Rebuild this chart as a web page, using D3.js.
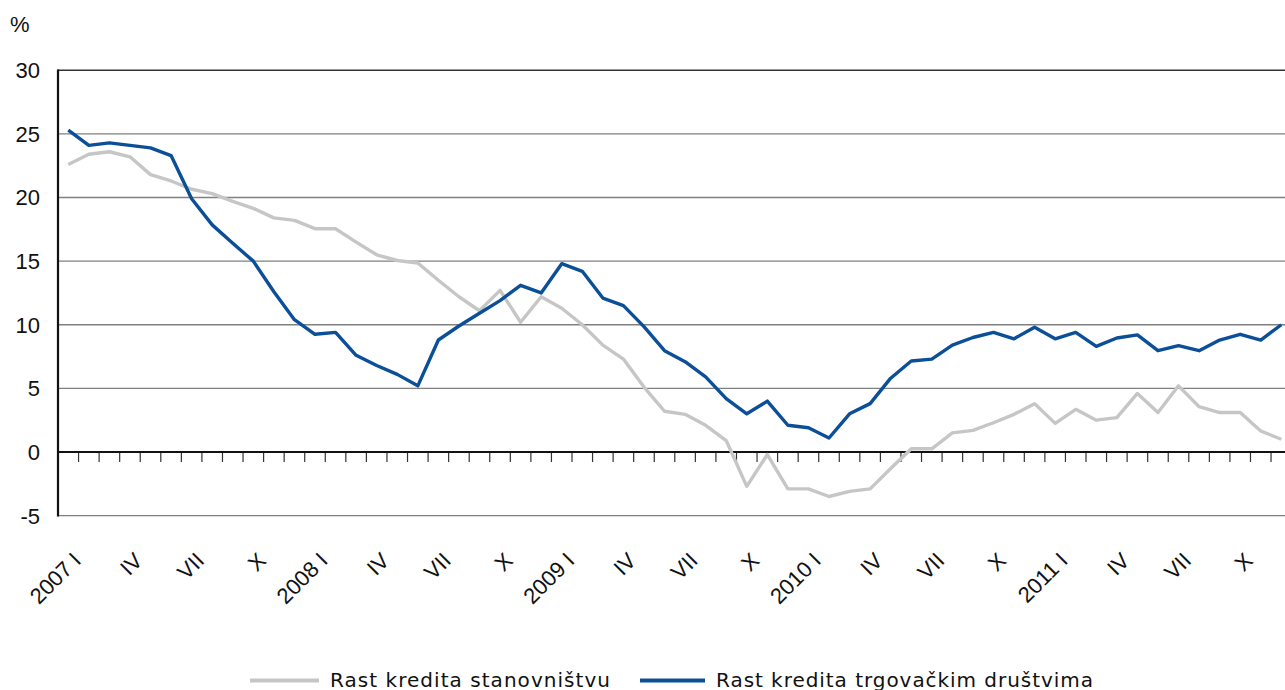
<!DOCTYPE html>
<html>
<head>
<meta charset="utf-8">
<script src="https://cdn.jsdelivr.net/npm/d3@7"></script>
<style>
  html, body { margin: 0; padding: 0; background: #fff; }
  svg { display: block; }
</style>
</head>
<body>
<svg id="chart" width="1285" height="690"></svg>
<script>
// ---- data ----
const months = [
  "2007 I","","","IV","","","VII","","","X","","",
  "2008 I","","","IV","","","VII","","","X","","",
  "2009 I","","","IV","","","VII","","","X","","",
  "2010 I","","","IV","","","VII","","","X","","",
  "2011 I","","","IV","","","VII","","","X","",""
];
const households = [
  22.6, 23.4, 23.6, 23.2, 21.8, 21.3, 20.65, 20.3, 19.7, 19.15,
  18.4, 18.2, 17.55, 17.55, 16.5, 15.5, 15.05, 14.85, 13.5, 12.2,
  11.1, 12.7, 10.2, 12.2, 11.3, 10.0, 8.4, 7.3, 5.1, 3.2,
  2.96, 2.1, 0.9, -2.7, -0.2, -2.9, -2.9, -3.5, -3.1, -2.9,
  -1.3, 0.25, 0.25, 1.5, 1.7, 2.3, 2.96, 3.8, 2.25, 3.35,
  2.5, 2.7, 4.6, 3.1, 5.2, 3.56, 3.1, 3.1, 1.65, 1.0
];
const companies = [
  25.3, 24.1, 24.3, 24.1, 23.9, 23.3, 19.9, 17.85, 16.4, 15.0,
  12.6, 10.4, 9.25, 9.4, 7.6, 6.8, 6.1, 5.2, 8.8, 9.9,
  10.9, 11.9, 13.1, 12.5, 14.8, 14.2, 12.1, 11.5, 9.85, 7.96,
  7.1, 5.9, 4.2, 3.0, 4.0, 2.1, 1.9, 1.1, 3.0, 3.8,
  5.8, 7.15, 7.3, 8.4, 9.0, 9.4, 8.9, 9.8, 8.9, 9.4,
  8.3, 8.96, 9.2, 7.96, 8.36, 7.96, 8.8, 9.25, 8.8, 10.0
];
const yTicks = [30, 25, 20, 15, 10, 5, 0, -5];
const seriesNames = ["Rast kredita stanovništvu", "Rast kredita trgovačkim društvima"];
const seriesColors = ["#c6c6c6", "#0b4f98"];

// ---- layout ----
const svg = d3.select("#chart");
const W = 1285;
const left = 58, bandW = 20.56;
const idx = d3.range(months.length);
const x = d3.scaleBand().domain(idx).range([left, left + bandW * months.length]).paddingInner(0).paddingOuter(0);
const xc = i => x(i) + x.bandwidth() / 2;
const y = d3.scaleLinear().domain([-5, 30]).range([515.6, 70.3]);

const axisFont = "'Liberation Sans', Arial, sans-serif";

// gridlines
svg.append("g").selectAll("line").data(yTicks.filter(d => d !== 0)).join("line")
  .attr("x1", left).attr("x2", W)
  .attr("y1", d => y(d)).attr("y2", d => y(d))
  .attr("stroke", d => d === 30 ? "#333" : "#808080")
  .attr("stroke-width", 1.4);

// y axis labels
svg.append("g").selectAll("text").data(yTicks).join("text")
  .attr("x", 40).attr("y", d => y(d)).attr("dy", "0.36em")
  .attr("text-anchor", "end")
  .attr("font-family", axisFont).attr("font-size", 22).attr("fill", "#111")
  .text(d => d);

svg.append("text").attr("x", 10).attr("y", 32)
  .attr("font-family", axisFont).attr("font-size", 22).attr("fill", "#111")
  .text("%");

// x tick marks at band boundaries
svg.append("g").selectAll("line").data(idx.slice(1)).join("line")
  .attr("x1", d => x(d)).attr("x2", d => x(d))
  .attr("y1", y(0)).attr("y2", y(0) + 10)
  .attr("stroke", "#333").attr("stroke-width", 1.2);

// zero line and y axis
svg.append("line").attr("x1", left).attr("x2", W).attr("y1", y(0)).attr("y2", y(0))
  .attr("stroke", "#111").attr("stroke-width", 2.2);
svg.append("line").attr("x1", left).attr("x2", left).attr("y1", y(30) - 0.7).attr("y2", y(-5) + 1)
  .attr("stroke", "#111").attr("stroke-width", 2.2);

// x labels
svg.append("g").selectAll("text").data(idx.filter(i => months[i] !== "")).join("text")
  .attr("transform", i => `translate(${xc(i) + 14},562) rotate(-45)`)
  .attr("text-anchor", "end")
  .attr("font-family", axisFont).attr("font-size", 22).attr("fill", "#111")
  .text(i => months[i]);

// lines
const line = d3.line().x((d, i) => xc(i)).y(d => y(d));
[households, companies].forEach((s, k) => {
  svg.append("path").datum(s)
    .attr("d", line)
    .attr("fill", "none")
    .attr("stroke", seriesColors[k])
    .attr("stroke-width", 3.4)
    .attr("stroke-linejoin", "round");
});

// legend
const legendPos = [{x1: 250, x2: 319, tx: 330, len: 280}, {x1: 640, x2: 705, tx: 716, len: 377}];
seriesNames.forEach((name, k) => {
  const p = legendPos[k];
  svg.append("line").attr("x1", p.x1).attr("x2", p.x2).attr("y1", 680.5).attr("y2", 680.5)
    .attr("stroke", seriesColors[k]).attr("stroke-width", 4);
  svg.append("text").attr("x", p.tx).attr("y", 687)
    .attr("font-family", "'DejaVu Sans', sans-serif").attr("font-size", 20).attr("fill", "#111")
    .attr("textLength", p.len).attr("lengthAdjust", "spacing")
    .text(name);
});
</script>
</body>
</html>
